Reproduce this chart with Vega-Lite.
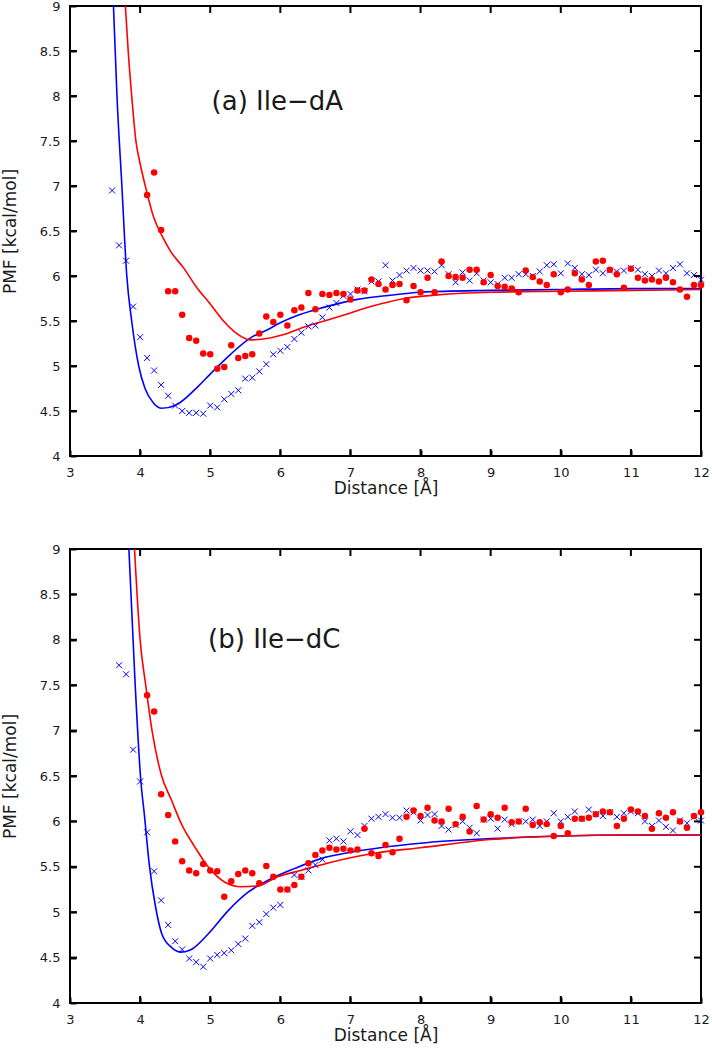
{
  "$schema": "https://vega.github.io/schema/vega-lite/v6.json",
  "padding": {"left": 0, "top": -1, "right": 5, "bottom": 0},
  "spacing": 45,
  "config": {
    "view": {"stroke": "black", "strokeWidth": 2},
    "font": "DejaVu Sans",
    "axis": {
      "domain": false, "grid": false, "ticks": true, "tickSize": 6, "tickWidth": 2, "tickColor": "black", "offset": -6, "zindex": 1,
      "labelFont": "DejaVu Sans", "labelFontSize": 13, "labelColor": "#1a1a1a",
      "titleFont": "DejaVu Sans", "titleFontSize": 17, "titleFontWeight": "normal", "titleColor": "#1a1a1a",
      "labelFlush": false, "labelOverlap": false
    }
  },
  "datasets": {
    "xt": [{"v": 4}, {"v": 5}, {"v": 6}, {"v": 7}, {"v": 8}, {"v": 9}, {"v": 10}, {"v": 11}],
    "yt": [{"v": 4.5}, {"v": 5}, {"v": 5.5}, {"v": 6}, {"v": 6.5}, {"v": 7}, {"v": 7.5}, {"v": 8}, {"v": 8.5}],
    "lineA": [
      {"x": 3.62, "y": 9.0, "s": "S1"}, {"x": 3.67, "y": 8.0, "s": "S1"}, {"x": 3.74, "y": 7.0, "s": "S1"}, {"x": 3.81, "y": 6.0, "s": "S1"}, {"x": 3.88, "y": 5.5, "s": "S1"}, {"x": 3.98, "y": 5.0, "s": "S1"}, {"x": 4.07, "y": 4.75, "s": "S1"}, {"x": 4.19, "y": 4.59, "s": "S1"}, {"x": 4.31, "y": 4.53, "s": "S1"}, {"x": 4.52, "y": 4.57, "s": "S1"}, {"x": 4.81, "y": 4.76, "s": "S1"}, {"x": 5.0, "y": 4.91, "s": "S1"}, {"x": 5.29, "y": 5.13, "s": "S1"}, {"x": 5.57, "y": 5.31, "s": "S1"}, {"x": 5.81, "y": 5.4, "s": "S1"}, {"x": 6.0, "y": 5.48, "s": "S1"}, {"x": 6.24, "y": 5.56, "s": "S1"}, {"x": 6.52, "y": 5.63, "s": "S1"}, {"x": 6.81, "y": 5.69, "s": "S1"}, {"x": 7.1, "y": 5.74, "s": "S1"}, {"x": 7.5, "y": 5.78, "s": "S1"}, {"x": 8.0, "y": 5.82, "s": "S1"}, {"x": 9.0, "y": 5.84, "s": "S1"}, {"x": 10.0, "y": 5.85, "s": "S1"}, {"x": 11.0, "y": 5.86, "s": "S1"}, {"x": 12.0, "y": 5.86, "s": "S1"},
      {"x": 3.79, "y": 9.0, "s": "S2"}, {"x": 3.83, "y": 8.5, "s": "S2"}, {"x": 3.88, "y": 8.0, "s": "S2"}, {"x": 3.94, "y": 7.5, "s": "S2"}, {"x": 4.0, "y": 7.25, "s": "S2"}, {"x": 4.1, "y": 6.92, "s": "S2"}, {"x": 4.19, "y": 6.66, "s": "S2"}, {"x": 4.33, "y": 6.42, "s": "S2"}, {"x": 4.43, "y": 6.28, "s": "S2"}, {"x": 4.62, "y": 6.09, "s": "S2"}, {"x": 4.81, "y": 5.87, "s": "S2"}, {"x": 5.0, "y": 5.69, "s": "S2"}, {"x": 5.19, "y": 5.5, "s": "S2"}, {"x": 5.38, "y": 5.36, "s": "S2"}, {"x": 5.57, "y": 5.29, "s": "S2"}, {"x": 5.76, "y": 5.3, "s": "S2"}, {"x": 6.05, "y": 5.35, "s": "S2"}, {"x": 6.33, "y": 5.43, "s": "S2"}, {"x": 6.71, "y": 5.52, "s": "S2"}, {"x": 7.0, "y": 5.59, "s": "S2"}, {"x": 7.29, "y": 5.66, "s": "S2"}, {"x": 7.77, "y": 5.75, "s": "S2"}, {"x": 8.24, "y": 5.79, "s": "S2"}, {"x": 9.0, "y": 5.82, "s": "S2"}, {"x": 10.0, "y": 5.83, "s": "S2"}, {"x": 11.0, "y": 5.84, "s": "S2"}, {"x": 12.0, "y": 5.85, "s": "S2"}
    ],
    "ptsA": [
      {"x": 3.6, "y": 6.95, "s": "S1"}, {"x": 3.7, "y": 6.34, "s": "S1"}, {"x": 3.8, "y": 6.17, "s": "S1"}, {"x": 3.9, "y": 5.66, "s": "S1"}, {"x": 4.0, "y": 5.32, "s": "S1"}, {"x": 4.1, "y": 5.09, "s": "S1"}, {"x": 4.2, "y": 4.95, "s": "S1"}, {"x": 4.3, "y": 4.79, "s": "S1"}, {"x": 4.4, "y": 4.67, "s": "S1"}, {"x": 4.5, "y": 4.56, "s": "S1"}, {"x": 4.6, "y": 4.5, "s": "S1"}, {"x": 4.7, "y": 4.48, "s": "S1"}, {"x": 4.8, "y": 4.48, "s": "S1"}, {"x": 4.9, "y": 4.47, "s": "S1"}, {"x": 5.0, "y": 4.56, "s": "S1"}, {"x": 5.1, "y": 4.54, "s": "S1"}, {"x": 5.2, "y": 4.63, "s": "S1"}, {"x": 5.3, "y": 4.69, "s": "S1"}, {"x": 5.4, "y": 4.73, "s": "S1"}, {"x": 5.5, "y": 4.86, "s": "S1"}, {"x": 5.6, "y": 4.87, "s": "S1"}, {"x": 5.7, "y": 4.94, "s": "S1"}, {"x": 5.8, "y": 5.02, "s": "S1"}, {"x": 5.9, "y": 5.13, "s": "S1"}, {"x": 6.0, "y": 5.17, "s": "S1"}, {"x": 6.1, "y": 5.21, "s": "S1"}, {"x": 6.2, "y": 5.3, "s": "S1"}, {"x": 6.3, "y": 5.37, "s": "S1"}, {"x": 6.4, "y": 5.44, "s": "S1"}, {"x": 6.5, "y": 5.45, "s": "S1"}, {"x": 6.6, "y": 5.54, "s": "S1"}, {"x": 6.7, "y": 5.65, "s": "S1"}, {"x": 6.8, "y": 5.7, "s": "S1"}, {"x": 6.9, "y": 5.78, "s": "S1"}, {"x": 7.0, "y": 5.8, "s": "S1"}, {"x": 7.1, "y": 5.85, "s": "S1"}, {"x": 7.2, "y": 5.83, "s": "S1"}, {"x": 7.3, "y": 5.94, "s": "S1"}, {"x": 7.4, "y": 5.94, "s": "S1"}, {"x": 7.5, "y": 6.12, "s": "S1"}, {"x": 7.6, "y": 5.95, "s": "S1"}, {"x": 7.7, "y": 6.01, "s": "S1"}, {"x": 7.8, "y": 6.06, "s": "S1"}, {"x": 7.9, "y": 6.09, "s": "S1"}, {"x": 8.0, "y": 6.06, "s": "S1"}, {"x": 8.1, "y": 6.06, "s": "S1"}, {"x": 8.2, "y": 6.05, "s": "S1"}, {"x": 8.3, "y": 6.12, "s": "S1"}, {"x": 8.4, "y": 6.02, "s": "S1"}, {"x": 8.5, "y": 5.93, "s": "S1"}, {"x": 8.6, "y": 6.04, "s": "S1"}, {"x": 8.7, "y": 5.95, "s": "S1"}, {"x": 8.8, "y": 6.03, "s": "S1"}, {"x": 8.9, "y": 5.95, "s": "S1"}, {"x": 9.0, "y": 5.93, "s": "S1"}, {"x": 9.1, "y": 5.91, "s": "S1"}, {"x": 9.2, "y": 5.98, "s": "S1"}, {"x": 9.3, "y": 5.98, "s": "S1"}, {"x": 9.4, "y": 6.02, "s": "S1"}, {"x": 9.5, "y": 6.02, "s": "S1"}, {"x": 9.6, "y": 6.0, "s": "S1"}, {"x": 9.7, "y": 6.05, "s": "S1"}, {"x": 9.8, "y": 6.12, "s": "S1"}, {"x": 9.9, "y": 6.13, "s": "S1"}, {"x": 10.0, "y": 6.03, "s": "S1"}, {"x": 10.1, "y": 6.14, "s": "S1"}, {"x": 10.2, "y": 6.09, "s": "S1"}, {"x": 10.3, "y": 6.02, "s": "S1"}, {"x": 10.4, "y": 6.01, "s": "S1"}, {"x": 10.5, "y": 6.07, "s": "S1"}, {"x": 10.6, "y": 6.03, "s": "S1"}, {"x": 10.7, "y": 6.06, "s": "S1"}, {"x": 10.8, "y": 6.05, "s": "S1"}, {"x": 10.9, "y": 6.06, "s": "S1"}, {"x": 11.0, "y": 6.09, "s": "S1"}, {"x": 11.1, "y": 6.07, "s": "S1"}, {"x": 11.2, "y": 6.02, "s": "S1"}, {"x": 11.3, "y": 6.0, "s": "S1"}, {"x": 11.4, "y": 6.06, "s": "S1"}, {"x": 11.5, "y": 6.03, "s": "S1"}, {"x": 11.6, "y": 6.09, "s": "S1"}, {"x": 11.7, "y": 6.13, "s": "S1"}, {"x": 11.8, "y": 6.03, "s": "S1"}, {"x": 11.9, "y": 6.01, "s": "S1"}, {"x": 12.0, "y": 5.96, "s": "S1"},
      {"x": 4.1, "y": 6.9, "s": "S2"}, {"x": 4.2, "y": 7.15, "s": "S2"}, {"x": 4.3, "y": 6.51, "s": "S2"}, {"x": 4.4, "y": 5.83, "s": "S2"}, {"x": 4.5, "y": 5.83, "s": "S2"}, {"x": 4.6, "y": 5.57, "s": "S2"}, {"x": 4.7, "y": 5.31, "s": "S2"}, {"x": 4.8, "y": 5.28, "s": "S2"}, {"x": 4.9, "y": 5.14, "s": "S2"}, {"x": 5.0, "y": 5.13, "s": "S2"}, {"x": 5.1, "y": 4.97, "s": "S2"}, {"x": 5.2, "y": 4.99, "s": "S2"}, {"x": 5.3, "y": 5.23, "s": "S2"}, {"x": 5.4, "y": 5.09, "s": "S2"}, {"x": 5.5, "y": 5.11, "s": "S2"}, {"x": 5.6, "y": 5.13, "s": "S2"}, {"x": 5.7, "y": 5.36, "s": "S2"}, {"x": 5.8, "y": 5.55, "s": "S2"}, {"x": 5.9, "y": 5.49, "s": "S2"}, {"x": 6.0, "y": 5.57, "s": "S2"}, {"x": 6.1, "y": 5.45, "s": "S2"}, {"x": 6.2, "y": 5.62, "s": "S2"}, {"x": 6.3, "y": 5.65, "s": "S2"}, {"x": 6.4, "y": 5.81, "s": "S2"}, {"x": 6.5, "y": 5.63, "s": "S2"}, {"x": 6.6, "y": 5.8, "s": "S2"}, {"x": 6.7, "y": 5.79, "s": "S2"}, {"x": 6.8, "y": 5.81, "s": "S2"}, {"x": 6.9, "y": 5.8, "s": "S2"}, {"x": 7.0, "y": 5.74, "s": "S2"}, {"x": 7.1, "y": 5.84, "s": "S2"}, {"x": 7.2, "y": 5.84, "s": "S2"}, {"x": 7.3, "y": 5.96, "s": "S2"}, {"x": 7.4, "y": 5.91, "s": "S2"}, {"x": 7.5, "y": 5.85, "s": "S2"}, {"x": 7.6, "y": 5.9, "s": "S2"}, {"x": 7.7, "y": 5.91, "s": "S2"}, {"x": 7.8, "y": 5.73, "s": "S2"}, {"x": 7.9, "y": 5.89, "s": "S2"}, {"x": 8.0, "y": 5.82, "s": "S2"}, {"x": 8.1, "y": 5.98, "s": "S2"}, {"x": 8.2, "y": 5.82, "s": "S2"}, {"x": 8.3, "y": 6.16, "s": "S2"}, {"x": 8.4, "y": 6.0, "s": "S2"}, {"x": 8.5, "y": 5.99, "s": "S2"}, {"x": 8.6, "y": 5.98, "s": "S2"}, {"x": 8.7, "y": 6.07, "s": "S2"}, {"x": 8.8, "y": 6.07, "s": "S2"}, {"x": 8.9, "y": 5.93, "s": "S2"}, {"x": 9.0, "y": 6.01, "s": "S2"}, {"x": 9.1, "y": 5.89, "s": "S2"}, {"x": 9.2, "y": 5.88, "s": "S2"}, {"x": 9.3, "y": 5.86, "s": "S2"}, {"x": 9.4, "y": 5.82, "s": "S2"}, {"x": 9.5, "y": 6.06, "s": "S2"}, {"x": 9.6, "y": 5.99, "s": "S2"}, {"x": 9.7, "y": 5.94, "s": "S2"}, {"x": 9.8, "y": 5.9, "s": "S2"}, {"x": 9.9, "y": 6.02, "s": "S2"}, {"x": 10.0, "y": 5.82, "s": "S2"}, {"x": 10.1, "y": 5.85, "s": "S2"}, {"x": 10.2, "y": 6.03, "s": "S2"}, {"x": 10.3, "y": 5.96, "s": "S2"}, {"x": 10.4, "y": 5.9, "s": "S2"}, {"x": 10.5, "y": 6.16, "s": "S2"}, {"x": 10.6, "y": 6.17, "s": "S2"}, {"x": 10.7, "y": 6.07, "s": "S2"}, {"x": 10.8, "y": 6.02, "s": "S2"}, {"x": 10.9, "y": 5.87, "s": "S2"}, {"x": 11.0, "y": 6.08, "s": "S2"}, {"x": 11.1, "y": 5.98, "s": "S2"}, {"x": 11.2, "y": 5.95, "s": "S2"}, {"x": 11.3, "y": 5.96, "s": "S2"}, {"x": 11.4, "y": 5.94, "s": "S2"}, {"x": 11.5, "y": 5.98, "s": "S2"}, {"x": 11.6, "y": 5.93, "s": "S2"}, {"x": 11.7, "y": 5.85, "s": "S2"}, {"x": 11.8, "y": 5.77, "s": "S2"}, {"x": 11.9, "y": 5.9, "s": "S2"}, {"x": 12.0, "y": 5.9, "s": "S2"}
    ],
    "lineB": [
      {"x": 3.84, "y": 9.0, "s": "S1"}, {"x": 3.93, "y": 7.5, "s": "S1"}, {"x": 4.01, "y": 6.45, "s": "S1"}, {"x": 4.06, "y": 6.08, "s": "S1"}, {"x": 4.13, "y": 5.53, "s": "S1"}, {"x": 4.22, "y": 5.06, "s": "S1"}, {"x": 4.31, "y": 4.76, "s": "S1"}, {"x": 4.45, "y": 4.61, "s": "S1"}, {"x": 4.59, "y": 4.56, "s": "S1"}, {"x": 4.73, "y": 4.59, "s": "S1"}, {"x": 4.97, "y": 4.76, "s": "S1"}, {"x": 5.26, "y": 5.02, "s": "S1"}, {"x": 5.54, "y": 5.22, "s": "S1"}, {"x": 5.82, "y": 5.35, "s": "S1"}, {"x": 6.2, "y": 5.48, "s": "S1"}, {"x": 6.58, "y": 5.59, "s": "S1"}, {"x": 7.0, "y": 5.66, "s": "S1"}, {"x": 8.0, "y": 5.76, "s": "S1"}, {"x": 9.0, "y": 5.81, "s": "S1"}, {"x": 10.0, "y": 5.84, "s": "S1"}, {"x": 11.0, "y": 5.85, "s": "S1"}, {"x": 12.0, "y": 5.85, "s": "S1"},
      {"x": 3.92, "y": 9.0, "s": "S2"}, {"x": 4.0, "y": 8.0, "s": "S2"}, {"x": 4.08, "y": 7.5, "s": "S2"}, {"x": 4.17, "y": 7.0, "s": "S2"}, {"x": 4.3, "y": 6.52, "s": "S2"}, {"x": 4.45, "y": 6.23, "s": "S2"}, {"x": 4.59, "y": 5.97, "s": "S2"}, {"x": 4.78, "y": 5.72, "s": "S2"}, {"x": 4.97, "y": 5.5, "s": "S2"}, {"x": 5.21, "y": 5.33, "s": "S2"}, {"x": 5.44, "y": 5.28, "s": "S2"}, {"x": 5.68, "y": 5.29, "s": "S2"}, {"x": 5.96, "y": 5.39, "s": "S2"}, {"x": 6.29, "y": 5.46, "s": "S2"}, {"x": 6.67, "y": 5.54, "s": "S2"}, {"x": 7.0, "y": 5.6, "s": "S2"}, {"x": 7.34, "y": 5.65, "s": "S2"}, {"x": 8.0, "y": 5.71, "s": "S2"}, {"x": 9.0, "y": 5.8, "s": "S2"}, {"x": 10.0, "y": 5.84, "s": "S2"}, {"x": 11.0, "y": 5.85, "s": "S2"}, {"x": 12.0, "y": 5.85, "s": "S2"}
    ],
    "ptsB": [
      {"x": 3.7, "y": 7.72, "s": "S1"}, {"x": 3.8, "y": 7.62, "s": "S1"}, {"x": 3.9, "y": 6.79, "s": "S1"}, {"x": 4.0, "y": 6.44, "s": "S1"}, {"x": 4.1, "y": 5.88, "s": "S1"}, {"x": 4.2, "y": 5.45, "s": "S1"}, {"x": 4.3, "y": 5.13, "s": "S1"}, {"x": 4.4, "y": 4.86, "s": "S1"}, {"x": 4.5, "y": 4.68, "s": "S1"}, {"x": 4.6, "y": 4.59, "s": "S1"}, {"x": 4.7, "y": 4.49, "s": "S1"}, {"x": 4.8, "y": 4.45, "s": "S1"}, {"x": 4.9, "y": 4.4, "s": "S1"}, {"x": 5.0, "y": 4.49, "s": "S1"}, {"x": 5.1, "y": 4.53, "s": "S1"}, {"x": 5.2, "y": 4.55, "s": "S1"}, {"x": 5.3, "y": 4.58, "s": "S1"}, {"x": 5.4, "y": 4.65, "s": "S1"}, {"x": 5.5, "y": 4.71, "s": "S1"}, {"x": 5.6, "y": 4.85, "s": "S1"}, {"x": 5.7, "y": 4.89, "s": "S1"}, {"x": 5.8, "y": 4.98, "s": "S1"}, {"x": 5.9, "y": 5.05, "s": "S1"}, {"x": 6.0, "y": 5.08, "s": "S1"}, {"x": 6.1, "y": 5.25, "s": "S1"}, {"x": 6.2, "y": 5.41, "s": "S1"}, {"x": 6.3, "y": 5.39, "s": "S1"}, {"x": 6.4, "y": 5.46, "s": "S1"}, {"x": 6.5, "y": 5.52, "s": "S1"}, {"x": 6.6, "y": 5.58, "s": "S1"}, {"x": 6.7, "y": 5.79, "s": "S1"}, {"x": 6.8, "y": 5.81, "s": "S1"}, {"x": 6.9, "y": 5.78, "s": "S1"}, {"x": 7.0, "y": 5.89, "s": "S1"}, {"x": 7.1, "y": 5.85, "s": "S1"}, {"x": 7.2, "y": 5.95, "s": "S1"}, {"x": 7.3, "y": 6.03, "s": "S1"}, {"x": 7.4, "y": 6.05, "s": "S1"}, {"x": 7.5, "y": 6.08, "s": "S1"}, {"x": 7.6, "y": 6.04, "s": "S1"}, {"x": 7.7, "y": 6.04, "s": "S1"}, {"x": 7.8, "y": 6.12, "s": "S1"}, {"x": 7.9, "y": 6.1, "s": "S1"}, {"x": 8.0, "y": 6.01, "s": "S1"}, {"x": 8.1, "y": 6.07, "s": "S1"}, {"x": 8.2, "y": 6.08, "s": "S1"}, {"x": 8.3, "y": 5.95, "s": "S1"}, {"x": 8.4, "y": 5.91, "s": "S1"}, {"x": 8.5, "y": 5.96, "s": "S1"}, {"x": 8.6, "y": 6.0, "s": "S1"}, {"x": 8.7, "y": 5.93, "s": "S1"}, {"x": 8.8, "y": 5.87, "s": "S1"}, {"x": 8.9, "y": 6.02, "s": "S1"}, {"x": 9.0, "y": 6.03, "s": "S1"}, {"x": 9.1, "y": 5.92, "s": "S1"}, {"x": 9.2, "y": 6.02, "s": "S1"}, {"x": 9.3, "y": 5.97, "s": "S1"}, {"x": 9.4, "y": 6.0, "s": "S1"}, {"x": 9.5, "y": 6.0, "s": "S1"}, {"x": 9.6, "y": 6.02, "s": "S1"}, {"x": 9.7, "y": 5.95, "s": "S1"}, {"x": 9.8, "y": 6.0, "s": "S1"}, {"x": 9.9, "y": 6.09, "s": "S1"}, {"x": 10.0, "y": 6.0, "s": "S1"}, {"x": 10.1, "y": 6.05, "s": "S1"}, {"x": 10.2, "y": 6.11, "s": "S1"}, {"x": 10.3, "y": 6.03, "s": "S1"}, {"x": 10.4, "y": 6.13, "s": "S1"}, {"x": 10.5, "y": 6.08, "s": "S1"}, {"x": 10.6, "y": 6.06, "s": "S1"}, {"x": 10.7, "y": 6.1, "s": "S1"}, {"x": 10.8, "y": 6.05, "s": "S1"}, {"x": 10.9, "y": 6.09, "s": "S1"}, {"x": 11.0, "y": 6.11, "s": "S1"}, {"x": 11.1, "y": 6.09, "s": "S1"}, {"x": 11.2, "y": 6.0, "s": "S1"}, {"x": 11.3, "y": 5.95, "s": "S1"}, {"x": 11.4, "y": 6.01, "s": "S1"}, {"x": 11.5, "y": 5.94, "s": "S1"}, {"x": 11.6, "y": 5.9, "s": "S1"}, {"x": 11.7, "y": 6.01, "s": "S1"}, {"x": 11.8, "y": 5.98, "s": "S1"}, {"x": 11.9, "y": 6.05, "s": "S1"}, {"x": 12.0, "y": 6.01, "s": "S1"},
      {"x": 4.1, "y": 7.39, "s": "S2"}, {"x": 4.2, "y": 7.21, "s": "S2"}, {"x": 4.3, "y": 6.3, "s": "S2"}, {"x": 4.4, "y": 6.07, "s": "S2"}, {"x": 4.5, "y": 5.78, "s": "S2"}, {"x": 4.6, "y": 5.56, "s": "S2"}, {"x": 4.7, "y": 5.46, "s": "S2"}, {"x": 4.8, "y": 5.43, "s": "S2"}, {"x": 4.9, "y": 5.53, "s": "S2"}, {"x": 5.0, "y": 5.46, "s": "S2"}, {"x": 5.1, "y": 5.45, "s": "S2"}, {"x": 5.2, "y": 5.17, "s": "S2"}, {"x": 5.3, "y": 5.34, "s": "S2"}, {"x": 5.4, "y": 5.42, "s": "S2"}, {"x": 5.5, "y": 5.46, "s": "S2"}, {"x": 5.6, "y": 5.43, "s": "S2"}, {"x": 5.7, "y": 5.32, "s": "S2"}, {"x": 5.8, "y": 5.51, "s": "S2"}, {"x": 5.9, "y": 5.39, "s": "S2"}, {"x": 6.0, "y": 5.25, "s": "S2"}, {"x": 6.1, "y": 5.25, "s": "S2"}, {"x": 6.2, "y": 5.3, "s": "S2"}, {"x": 6.3, "y": 5.39, "s": "S2"}, {"x": 6.4, "y": 5.54, "s": "S2"}, {"x": 6.5, "y": 5.63, "s": "S2"}, {"x": 6.6, "y": 5.68, "s": "S2"}, {"x": 6.7, "y": 5.71, "s": "S2"}, {"x": 6.8, "y": 5.69, "s": "S2"}, {"x": 6.9, "y": 5.7, "s": "S2"}, {"x": 7.0, "y": 5.68, "s": "S2"}, {"x": 7.1, "y": 5.69, "s": "S2"}, {"x": 7.2, "y": 5.92, "s": "S2"}, {"x": 7.3, "y": 5.65, "s": "S2"}, {"x": 7.4, "y": 5.62, "s": "S2"}, {"x": 7.5, "y": 5.74, "s": "S2"}, {"x": 7.6, "y": 5.66, "s": "S2"}, {"x": 7.7, "y": 5.81, "s": "S2"}, {"x": 7.8, "y": 6.05, "s": "S2"}, {"x": 7.9, "y": 6.12, "s": "S2"}, {"x": 8.0, "y": 6.06, "s": "S2"}, {"x": 8.1, "y": 6.15, "s": "S2"}, {"x": 8.2, "y": 6.01, "s": "S2"}, {"x": 8.3, "y": 6.0, "s": "S2"}, {"x": 8.4, "y": 6.14, "s": "S2"}, {"x": 8.5, "y": 5.97, "s": "S2"}, {"x": 8.6, "y": 6.05, "s": "S2"}, {"x": 8.7, "y": 5.89, "s": "S2"}, {"x": 8.8, "y": 6.17, "s": "S2"}, {"x": 8.9, "y": 6.02, "s": "S2"}, {"x": 9.0, "y": 6.08, "s": "S2"}, {"x": 9.1, "y": 6.04, "s": "S2"}, {"x": 9.2, "y": 6.15, "s": "S2"}, {"x": 9.3, "y": 5.99, "s": "S2"}, {"x": 9.4, "y": 6.0, "s": "S2"}, {"x": 9.5, "y": 6.14, "s": "S2"}, {"x": 9.6, "y": 5.96, "s": "S2"}, {"x": 9.7, "y": 5.99, "s": "S2"}, {"x": 9.8, "y": 5.97, "s": "S2"}, {"x": 9.9, "y": 5.84, "s": "S2"}, {"x": 10.0, "y": 5.95, "s": "S2"}, {"x": 10.1, "y": 5.87, "s": "S2"}, {"x": 10.2, "y": 6.03, "s": "S2"}, {"x": 10.3, "y": 6.03, "s": "S2"}, {"x": 10.4, "y": 6.04, "s": "S2"}, {"x": 10.5, "y": 6.08, "s": "S2"}, {"x": 10.6, "y": 6.11, "s": "S2"}, {"x": 10.7, "y": 6.1, "s": "S2"}, {"x": 10.8, "y": 5.95, "s": "S2"}, {"x": 10.9, "y": 6.03, "s": "S2"}, {"x": 11.0, "y": 6.13, "s": "S2"}, {"x": 11.1, "y": 6.11, "s": "S2"}, {"x": 11.2, "y": 6.06, "s": "S2"}, {"x": 11.3, "y": 5.92, "s": "S2"}, {"x": 11.4, "y": 6.09, "s": "S2"}, {"x": 11.5, "y": 6.04, "s": "S2"}, {"x": 11.6, "y": 6.1, "s": "S2"}, {"x": 11.7, "y": 6.0, "s": "S2"}, {"x": 11.8, "y": 5.93, "s": "S2"}, {"x": 11.9, "y": 6.06, "s": "S2"}, {"x": 12.0, "y": 6.1, "s": "S2"}
    ],
    "labA": [{"x": 5.02, "y": 7.93, "t": "(a) Ile−dA"}],
    "labB": [{"x": 4.97, "y": 8.0, "t": "(b) Ile−dC"}]
  },
  "vconcat": [
    {
      "width": 631, "height": 450,
      "layer": [
        {
          "data": {"name": "lineA"},
          "mark": {"type": "line", "interpolate": "monotone", "strokeWidth": 1.6},
          "encoding": {
            "x": {"field": "x", "type": "quantitative", "scale": {"domain": [3, 12], "nice": false, "zero": false}, "axis": {"orient": "bottom", "values": [3,4,5,6,7,8,9,10,11,12], "format": "~g", "title": "Distance [Å]", "labelPadding": 10, "titlePadding": 1}},
            "y": {"field": "y", "type": "quantitative", "scale": {"domain": [4, 9], "nice": false, "zero": false}, "axis": {"orient": "left", "values": [4,4.5,5,5.5,6,6.5,7,7.5,8,8.5,9], "format": "~g", "title": "PMF [kcal/mol]", "labelPadding": 10, "titlePadding": 20}},
            "color": {"field": "s", "type": "nominal", "scale": {"domain": ["S1", "S2"], "range": ["#0000ff", "#ff0000"]}, "legend": null},
            "detail": {"field": "s"}
          }
        },
        {
          "data": {"name": "ptsA"},
          "transform": [{"filter": "datum.s === 'S1'"}],
          "mark": {"type": "point", "shape": "M-1,-1L1,1M1,-1L-1,1", "filled": false, "strokeWidth": 1, "size": 36, "color": "#0000ff", "opacity": 1},
          "encoding": {"x": {"field": "x", "type": "quantitative"}, "y": {"field": "y", "type": "quantitative"}}
        },
        {
          "data": {"name": "ptsA"},
          "transform": [{"filter": "datum.s === 'S2'"}],
          "mark": {"type": "circle", "size": 42, "color": "#ff0000", "opacity": 1},
          "encoding": {"x": {"field": "x", "type": "quantitative"}, "y": {"field": "y", "type": "quantitative"}}
        },
        {
          "data": {"name": "xt"},
          "mark": {"type": "point", "shape": "M0,-1L0,1", "filled": false, "strokeWidth": 2, "size": 49, "color": "black", "opacity": 1},
          "encoding": {"x": {"field": "v", "type": "quantitative"}, "y": {"datum": 4.039}}
        },
        {
          "data": {"name": "xt"},
          "mark": {"type": "point", "shape": "M0,-1L0,1", "filled": false, "strokeWidth": 2, "size": 49, "color": "black", "opacity": 1},
          "encoding": {"x": {"field": "v", "type": "quantitative"}, "y": {"datum": 8.961}}
        },
        {
          "data": {"name": "yt"},
          "mark": {"type": "point", "shape": "M-1,0L1,0", "filled": false, "strokeWidth": 2, "size": 49, "color": "black", "opacity": 1},
          "encoding": {"y": {"field": "v", "type": "quantitative"}, "x": {"datum": 3.05}}
        },
        {
          "data": {"name": "yt"},
          "mark": {"type": "point", "shape": "M-1,0L1,0", "filled": false, "strokeWidth": 2, "size": 49, "color": "black", "opacity": 1},
          "encoding": {"y": {"field": "v", "type": "quantitative"}, "x": {"datum": 11.95}}
        },
        {
          "data": {"name": "labA"},
          "mark": {"type": "text", "align": "left", "baseline": "middle", "fontSize": 26, "font": "DejaVu Sans", "color": "#1a1a1a"},
          "encoding": {"x": {"field": "x", "type": "quantitative"}, "y": {"field": "y", "type": "quantitative"}, "text": {"field": "t"}}
        }
      ]
    },
    {
      "width": 631, "height": 454,
      "layer": [
        {
          "data": {"name": "lineB"},
          "mark": {"type": "line", "interpolate": "monotone", "strokeWidth": 1.6},
          "encoding": {
            "x": {"field": "x", "type": "quantitative", "scale": {"domain": [3, 12], "nice": false, "zero": false}, "axis": {"orient": "bottom", "values": [3,4,5,6,7,8,9,10,11,12], "format": "~g", "title": "Distance [Å]", "labelPadding": 10, "titlePadding": 1}},
            "y": {"field": "y", "type": "quantitative", "scale": {"domain": [4, 9], "nice": false, "zero": false}, "axis": {"orient": "left", "values": [4,4.5,5,5.5,6,6.5,7,7.5,8,8.5,9], "format": "~g", "title": "PMF [kcal/mol]", "labelPadding": 10, "titlePadding": 20}},
            "color": {"field": "s", "type": "nominal", "scale": {"domain": ["S1", "S2"], "range": ["#0000ff", "#ff0000"]}, "legend": null},
            "detail": {"field": "s"}
          }
        },
        {
          "data": {"name": "ptsB"},
          "transform": [{"filter": "datum.s === 'S1'"}],
          "mark": {"type": "point", "shape": "M-1,-1L1,1M1,-1L-1,1", "filled": false, "strokeWidth": 1, "size": 36, "color": "#0000ff", "opacity": 1},
          "encoding": {"x": {"field": "x", "type": "quantitative"}, "y": {"field": "y", "type": "quantitative"}}
        },
        {
          "data": {"name": "ptsB"},
          "transform": [{"filter": "datum.s === 'S2'"}],
          "mark": {"type": "circle", "size": 42, "color": "#ff0000", "opacity": 1},
          "encoding": {"x": {"field": "x", "type": "quantitative"}, "y": {"field": "y", "type": "quantitative"}}
        },
        {
          "data": {"name": "xt"},
          "mark": {"type": "point", "shape": "M0,-1L0,1", "filled": false, "strokeWidth": 2, "size": 49, "color": "black", "opacity": 1},
          "encoding": {"x": {"field": "v", "type": "quantitative"}, "y": {"datum": 4.039}}
        },
        {
          "data": {"name": "xt"},
          "mark": {"type": "point", "shape": "M0,-1L0,1", "filled": false, "strokeWidth": 2, "size": 49, "color": "black", "opacity": 1},
          "encoding": {"x": {"field": "v", "type": "quantitative"}, "y": {"datum": 8.961}}
        },
        {
          "data": {"name": "yt"},
          "mark": {"type": "point", "shape": "M-1,0L1,0", "filled": false, "strokeWidth": 2, "size": 49, "color": "black", "opacity": 1},
          "encoding": {"y": {"field": "v", "type": "quantitative"}, "x": {"datum": 3.05}}
        },
        {
          "data": {"name": "yt"},
          "mark": {"type": "point", "shape": "M-1,0L1,0", "filled": false, "strokeWidth": 2, "size": 49, "color": "black", "opacity": 1},
          "encoding": {"y": {"field": "v", "type": "quantitative"}, "x": {"datum": 11.95}}
        },
        {
          "data": {"name": "labB"},
          "mark": {"type": "text", "align": "left", "baseline": "middle", "fontSize": 26, "font": "DejaVu Sans", "color": "#1a1a1a"},
          "encoding": {"x": {"field": "x", "type": "quantitative"}, "y": {"field": "y", "type": "quantitative"}, "text": {"field": "t"}}
        }
      ]
    }
  ]
}
